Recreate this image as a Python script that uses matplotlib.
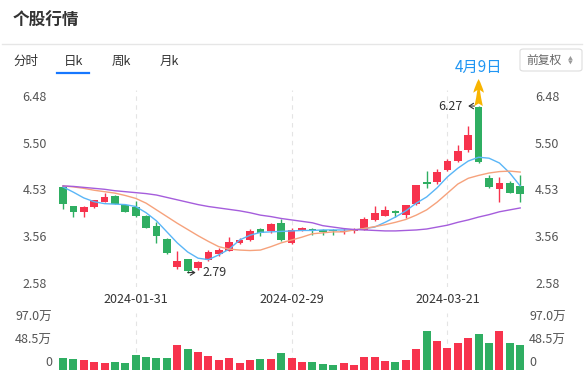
import numpy as np
import matplotlib
matplotlib.use('Agg')
import matplotlib.pyplot as plt
from matplotlib.lines import Line2D
from matplotlib.patches import FancyBboxPatch
from matplotlib.transforms import offset_copy

plt.rcParams['font.family'] = ['Noto Sans CJK SC', 'DejaVu Sans']

# daily k-line, 45 sessions
opens = [4.58, 4.18, 4.05, 4.17, 4.27, 4.39, 4.20, 4.15, 3.98, 3.76,
         3.49, 2.91, 3.07, 2.88, 3.05, 3.18, 3.25, 3.41, 3.46, 3.69,
         3.66, 3.83, 3.41, 3.66, 3.70, 3.68, 3.67, 3.63, 3.66, 3.68,
         3.89, 3.98, 4.08, 3.99, 4.22, 4.69, 4.68, 4.93, 5.12, 5.35,
         6.24, 4.76, 4.54, 4.67, 4.60]
closes = [4.22, 4.05, 4.16, 4.30, 4.37, 4.23, 4.06, 3.97, 3.73, 3.55,
          3.19, 3.04, 2.82, 3.02, 3.21, 3.26, 3.42, 3.47, 3.66, 3.61,
          3.81, 3.46, 3.67, 3.72, 3.67, 3.63, 3.66, 3.65, 3.69, 3.91,
          4.04, 4.10, 4.03, 4.20, 4.62, 4.64, 4.89, 5.12, 5.33, 5.67,
          5.09, 4.57, 4.66, 4.46, 4.43]
highs = [4.62, 4.19, 4.18, 4.31, 4.45, 4.41, 4.21, 4.29, 3.99, 3.85,
         3.51, 3.23, 3.08, 3.03, 3.26, 3.30, 3.53, 3.52, 3.69, 3.72,
         3.82, 3.90, 3.72, 3.74, 3.73, 3.69, 3.70, 3.72, 3.72, 3.95,
         4.18, 4.18, 4.10, 4.21, 4.63, 4.91, 4.95, 5.16, 5.46, 5.85,
         6.27, 4.83, 4.79, 4.71, 4.83]
lows = [4.11, 3.95, 3.95, 4.13, 4.26, 4.22, 4.05, 3.96, 3.72, 3.40,
        3.18, 2.86, 2.79, 2.84, 3.04, 3.14, 3.24, 3.38, 3.45, 3.56,
        3.62, 3.45, 3.39, 3.65, 3.58, 3.58, 3.58, 3.60, 3.61, 3.67,
        3.86, 3.97, 3.95, 3.94, 4.21, 4.55, 4.64, 4.92, 5.11, 5.30,
        5.08, 4.56, 4.27, 4.45, 4.26]

ma5 = [4.58, 4.47, 4.35, 4.27, 4.23, 4.22, 4.21, 4.17, 4.04, 3.87,
       3.64, 3.41, 3.22, 3.09, 3.06, 3.16, 3.28, 3.47, 3.57, 3.63,
       3.64, 3.65, 3.66, 3.67, 3.67, 3.68, 3.68, 3.68, 3.68, 3.71,
       3.74, 3.84, 3.95, 4.08, 4.24, 4.37, 4.56, 4.79, 4.97, 5.12,
       5.20, 5.18, 5.08, 4.87, 4.60]
ma10 = [4.60, 4.58, 4.55, 4.51, 4.48, 4.45, 4.40, 4.34, 4.24, 4.10,
        3.96, 3.82, 3.69, 3.56, 3.44, 3.33, 3.28, 3.26, 3.25, 3.26,
        3.33, 3.41, 3.47, 3.53, 3.60, 3.62, 3.64, 3.64, 3.68, 3.71,
        3.75, 3.79, 3.84, 3.90, 3.99, 4.10, 4.26, 4.45, 4.64, 4.76,
        4.82, 4.87, 4.90, 4.91, 4.89]
ma20 = [4.60, 4.59, 4.57, 4.55, 4.53, 4.50, 4.48, 4.46, 4.44, 4.41,
        4.36, 4.31, 4.26, 4.21, 4.17, 4.14, 4.11, 4.08, 4.04, 3.99,
        3.96, 3.92, 3.89, 3.86, 3.83, 3.77, 3.74, 3.71, 3.69, 3.68,
        3.67, 3.66, 3.66, 3.67, 3.68, 3.70, 3.74, 3.78, 3.84, 3.89,
        3.95, 4.00, 4.06, 4.10, 4.14]

# volume in 万
volume = [22.4, 20.5, 18.7, 14.9, 13.1, 14.9, 13.1, 28.0, 24.2, 22.4,
          22.4, 46.6, 39.2, 33.6, 26.1, 18.7, 22.4, 13.1, 18.7, 20.5,
          20.5, 31.7, 22.4, 14.9, 14.9, 11.2, 9.3, 13.1, 9.3, 24.2,
          24.2, 16.8, 14.9, 18.7, 39.2, 70.9, 52.2, 41.0, 48.5, 57.8,
          65.3, 48.5, 70.9, 48.5, 46.6]

tick_pos = [7, 22, 37]
tick_labels = ['2024-01-31', '2024-02-29', '2024-03-21']
price_ticks = [2.58, 3.56, 4.53, 5.50, 6.48]
vol_ticks = ['97.0万', '48.5万', '0']
tabs = ['分时', '日k', '周k', '月k']

RED = '#f7334d'
GREEN = '#2fae62'
W, H = 584, 374

fig = plt.figure(figsize=(W / 100, H / 100), dpi=100)


def box(x0, y0, x1, y1):
    return [x0 / W, 1 - y1 / H, (x1 - x0) / W, (y1 - y0) / H]


def fx(x):
    return x / W


def fy(y):
    return 1 - y / H


# header
fig.text(fx(13), fy(21), '个股行情', fontsize=12, color='#333333',
         fontweight='bold', va='center', ha='left')
fig.add_artist(Line2D([fx(2), fx(582)], [fy(43.5), fy(43.5)],
                      color='#e6e6e6', lw=1))
for lab, x in zip(tabs, [13, 64, 112, 160]):
    fig.text(fx(x), fy(61), lab, fontsize=9, color='#333333', va='center', ha='left')
fig.add_artist(Line2D([fx(57), fx(89)], [fy(73), fy(73)], color='#1677ff', lw=1.6))

fig.add_artist(FancyBboxPatch((fx(520), fy(71)), fx(62), 22 / H,
                              boxstyle='round,pad=0,rounding_size=0.006',
                              transform=fig.transFigure, fc='white', ec='#dddddd', lw=0.8))
fig.text(fx(526), fy(60), '前复权', fontsize=8.5, color='#666666', va='center', ha='left')
fig.text(fx(570), fy(57.5), '▲', fontsize=3.5, color='#999999', va='center', ha='center')
fig.text(fx(570), fy(62.5), '▼', fontsize=3.5, color='#999999', va='center', ha='center')

# price panel
ax = fig.add_axes(box(56, 90, 526, 287))
idx = np.arange(len(opens))
o = np.array(opens)
c = np.array(closes)
colors = [RED if cc >= oo else GREEN for oo, cc in zip(o, c)]
ax.vlines(idx, lows, highs, colors=colors, lw=1, zorder=3)
body = np.maximum(np.abs(c - o), 0.012)
ax.bar(idx, body, bottom=np.minimum(o, c), width=0.74, color=colors, zorder=4)

ax.plot(idx, ma5, color='#5ab6f7', lw=1, zorder=5)
ax.plot(idx, ma10, color='#f6a27c', lw=1, zorder=5)
ax.plot(idx, ma20, color='#a55ddc', lw=1, zorder=5)

ax.set_xlim(-0.67, 44.56)
ax.set_ylim(2.488, 6.605)
ax.set_yticks(price_ticks)
ax.set_yticklabels(['%.2f' % t for t in price_ticks])
ax.set_xticks(tick_pos)
ax.set_xticklabels(tick_labels)
ax.tick_params(axis='y', left=False, right=False, labelleft=True, labelright=True,
               labelsize=9, labelcolor='#555555', pad=3)
ax.tick_params(axis='x', bottom=False, labelsize=9, labelcolor='#333333', pad=1)
ax.grid(axis='x', color='#e4e4e4', lw=0.8, ls=(0, (4, 4)))
ax.set_axisbelow(True)
for s in ax.spines.values():
    s.set_visible(False)

hi = int(np.argmax(highs))
lo = int(np.argmin(lows))
ax.annotate('%.2f' % highs[hi], xy=(hi, highs[hi]), xytext=(-16, 0),
            textcoords='offset pixels', ha='right', va='center', fontsize=9,
            color='#333333',
            arrowprops=dict(arrowstyle='<-,head_length=0.35,head_width=0.22',
                            color='#333333', lw=0.8, shrinkA=2, shrinkB=3))
ax.annotate('%.2f' % lows[lo], xy=(lo, lows[lo]), xytext=(15, 0),
            textcoords='offset pixels', ha='left', va='center', fontsize=9,
            color='#333333',
            arrowprops=dict(arrowstyle='<-,head_length=0.35,head_width=0.22',
                            color='#333333', lw=0.8, shrinkA=3, shrinkB=0))

# event marker above the spike
up = offset_copy(ax.transData, fig=fig, x=0, y=27, units='dots')
ax.annotate('', xy=(hi, highs[hi]), xycoords=up, xytext=(hi, highs[hi]),
            textcoords='data', annotation_clip=False,
            arrowprops=dict(arrowstyle='fancy,head_length=0.9,head_width=0.7,tail_width=0.55',
                            fc='#f8b400', ec='none', shrinkA=0, shrinkB=0,
                            mutation_scale=11))
ax.annotate('4月9日', xy=(hi, highs[hi]), xytext=(0, 30), textcoords='offset pixels',
            ha='center', va='bottom', fontsize=11, color='#2196f3',
            annotation_clip=False)

# volume panel
axv = fig.add_axes(box(56, 313, 526, 370))
axv.bar(idx, volume, width=0.77, color=colors)
axv.set_xlim(-0.67, 44.56)
axv.set_ylim(0, 104.3)
axv.set_xticks(tick_pos)
axv.set_xticklabels([])
axv.set_yticks([])
axv.tick_params(axis='x', bottom=False)
axv.grid(axis='x', color='#e4e4e4', lw=0.8, ls=(0, (4, 4)))
axv.set_axisbelow(True)
for s in axv.spines.values():
    s.set_visible(False)
for lab, y in zip(vol_ticks, [317, 340, 362]):
    fig.text(fx(52), fy(y), lab, fontsize=9, color='#555555', ha='right', va='center')
    fig.text(fx(529), fy(y), lab, fontsize=9, color='#555555', ha='left', va='center')

fig.savefig('out.png', dpi=100)
